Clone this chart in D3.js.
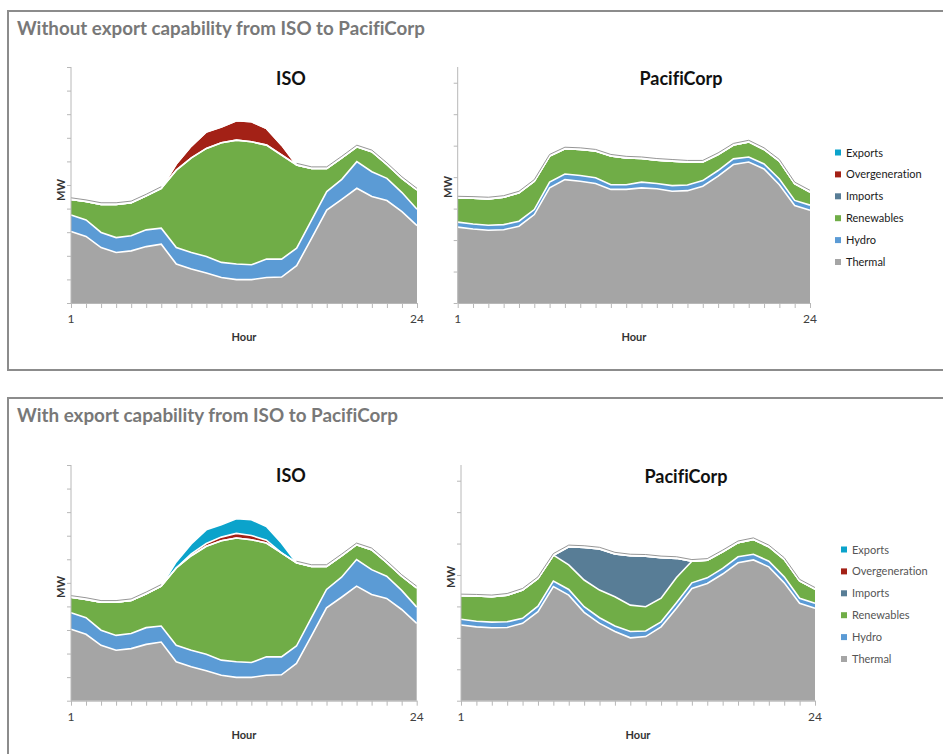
<!DOCTYPE html>
<html>
<head>
<meta charset="utf-8">
<script src="https://cdn.jsdelivr.net/npm/d3@7"></script>
<style>
  html, body { margin: 0; padding: 0; background: #fff; }
  svg { display: block; font-family: Lato, "Open Sans", sans-serif; font-variant-ligatures: none; font-feature-settings: "liga" 0; }
</style>
</head>
<body>
<svg id="chart" width="943" height="754"></svg>
<script>
// ---------------- DATA ----------------
const hours = [1,2,3,4,5,6,7,8,9,10,11,12,13,14,15,16,17,18,19,20,21,22,23,24];
const seriesKeys = ["Thermal","Hydro","Renewables","Imports","Overgeneration","Exports"];
const legendOrder = ["Exports","Overgeneration","Imports","Renewables","Hydro","Thermal"];
const panelTitles = ["Without export capability from ISO to PacifiCorp", "With export capability from ISO to PacifiCorp"];
const chartTitles = ["ISO", "PacifiCorp"];
const xTickLabels = [1, 24];

// ISO (MW, relative units)
const isoThermal  = [3.03,2.82,2.35,2.14,2.21,2.39,2.49,1.65,1.44,1.27,1.08,0.99,0.99,1.08,1.10,1.58,2.75,3.94,4.39,4.86,4.51,4.34,3.87,3.28];
const isoHydro    = [0.70,0.70,0.64,0.63,0.64,0.71,0.68,0.70,0.70,0.70,0.64,0.66,0.63,0.78,0.76,0.74,0.77,0.78,0.85,1.13,1.05,0.94,0.81,0.69];
const isoRenew    = [0.66,0.78,1.19,1.41,1.40,1.44,1.69,3.28,4.01,4.58,5.07,5.25,5.21,4.83,4.41,3.53,2.18,0.98,0.91,0.63,0.85,0.59,0.60,0.82];
const isoImports  = [0,0,0,0,0,0,0,0,0,0,0,0,0,0,0,0,0,0,0,0,0,0,0,0];
const isoOvergenA = [0,0,0,0,0,0,0,0.26,0.50,0.70,0.67,0.82,0.85,0.70,0.42,0,0,0,0,0,0,0,0,0];
const isoExportsA = [0,0,0,0,0,0,0,0,0,0,0,0,0,0,0,0,0,0,0,0,0,0,0,0];
const isoOvergenB = [0,0,0,0,0,0,0,0,0.08,0.12,0.15,0.20,0.18,0.12,0,0,0,0,0,0,0,0,0,0];
const isoExportsB = [0,0,0,0,0,0,0,0.26,0.42,0.58,0.52,0.62,0.67,0.58,0.42,0,0,0,0,0,0,0,0,0];

// PacifiCorp, without exports
const pacThermalA = [2.41,2.35,2.31,2.33,2.44,2.81,3.66,3.92,3.87,3.80,3.61,3.61,3.66,3.63,3.55,3.57,3.71,4.03,4.40,4.48,4.26,3.76,3.10,2.95];
const pacHydroA   = [0.16,0.16,0.16,0.16,0.16,0.16,0.18,0.18,0.18,0.18,0.15,0.15,0.18,0.17,0.18,0.18,0.18,0.18,0.18,0.16,0.16,0.18,0.16,0.16];
const pacRenewA   = [0.77,0.82,0.84,0.87,0.90,0.90,0.83,0.80,0.83,0.85,0.91,0.85,0.75,0.74,0.78,0.73,0.59,0.51,0.44,0.48,0.46,0.57,0.53,0.42];
const pacImportsA = [0,0,0,0,0,0,0,0,0,0,0,0,0,0,0,0,0,0,0,0,0,0,0,0];
// PacifiCorp, with exports from ISO
const pacThermalB = [2.41,2.35,2.32,2.33,2.46,2.83,3.63,3.36,2.81,2.46,2.20,2.00,2.04,2.35,2.94,3.57,3.73,4.03,4.39,4.48,4.26,3.75,3.10,2.94];
const pacHydroB   = [0.18,0.18,0.18,0.18,0.16,0.18,0.18,0.18,0.18,0.18,0.18,0.20,0.18,0.16,0.18,0.18,0.18,0.18,0.19,0.18,0.18,0.19,0.16,0.16];
const pacRenewB   = [0.75,0.80,0.81,0.85,0.90,0.88,0.82,0.78,0.85,0.88,0.93,0.84,0.77,0.75,0.80,0.69,0.56,0.53,0.45,0.47,0.46,0.56,0.55,0.45];
const pacImportsB = [0,0,0,0,0,0,0,0.58,1.04,1.31,1.36,1.57,1.61,1.29,0.61,0,0,0,0,0,0,0,0,0];
const zeros       = [0,0,0,0,0,0,0,0,0,0,0,0,0,0,0,0,0,0,0,0,0,0,0,0];

// ---------------- STYLE ----------------
const colors = {
  Thermal: "#a5a5a5",
  Hydro: "#5b9bd5",
  Renewables: "#70ad47",
  Imports: "#587d96",
  Overgeneration: "#a32116",
  Exports: "#0ba3cb"
};

function makeRows(th, hy, re, im, ov, ex) {
  return hours.map((h, i) => ({
    hour: h, Thermal: th[i], Hydro: hy[i], Renewables: re[i],
    Imports: im[i], Overgeneration: ov[i], Exports: ex[i]
  }));
}

const svg = d3.select("#chart");

// Panel frames
svg.append("rect").attr("x", 8).attr("y", 11).attr("width", 960).attr("height", 359)
  .attr("fill", "none").attr("stroke", "#8c8c8c").attr("stroke-width", 2);
svg.append("rect").attr("x", 8).attr("y", 398).attr("width", 960).attr("height", 400)
  .attr("fill", "none").attr("stroke", "#8c8c8c").attr("stroke-width", 2);

svg.append("text").attr("x", 17).attr("y", 35).text(panelTitles[0])
  .attr("font-size", 18).attr("font-weight", "bold").attr("fill", "#787878")
  .attr("textLength", 408).attr("lengthAdjust", "spacingAndGlyphs");
svg.append("text").attr("x", 17).attr("y", 422).text(panelTitles[1])
  .attr("font-size", 18).attr("font-weight", "bold").attr("fill", "#787878")
  .attr("textLength", 381).attr("lengthAdjust", "spacingAndGlyphs");

const charts = [
  { title: chartTitles[0], x0: 71, x1: 417, yT: 67, yB: 303, yMax: 10, nTicks: 10, titleX: 291, titleY: 85, mwY: 190,
    rows: makeRows(isoThermal, isoHydro, isoRenew, isoImports, isoOvergenA, isoExportsA) },
  { title: chartTitles[1], x0: 457.7, x1: 810, yT: 67, yB: 303, yMax: 7.5, nTicks: 7, titleX: 681, titleY: 85, mwY: 187,
    rows: makeRows(pacThermalA, pacHydroA, pacRenewA, pacImportsA, zeros, zeros) },
  { title: chartTitles[0], x0: 71, x1: 416.7, yT: 465, yB: 700.7, yMax: 10, nTicks: 10, titleX: 291, titleY: 482, mwY: 587,
    rows: makeRows(isoThermal, isoHydro, isoRenew, isoImports, isoOvergenB, isoExportsB) },
  { title: chartTitles[1], x0: 461, x1: 815, yT: 465, yB: 700.7, yMax: 7.5, nTicks: 7, titleX: 686, titleY: 483, mwY: 577,
    rows: makeRows(pacThermalB, pacHydroB, pacRenewB, pacImportsB, zeros, zeros) }
];

const stack = d3.stack().keys(seriesKeys);

charts.forEach(c => {
  const g = svg.append("g");
  const x = d3.scaleLinear().domain([1, 24]).range([c.x0, c.x1]);
  const y = d3.scaleLinear().domain([0, c.yMax]).range([c.yB, c.yT]);
  const layers = stack(c.rows);

  const area = d3.area().x(d => x(d.data.hour)).y0(d => y(d[0])).y1(d => y(d[1]));
  g.selectAll("path.area").data(layers).join("path")
    .attr("class", "area")
    .attr("d", area)
    .attr("fill", d => colors[d.key]);

  // white separator lines on top of each layer
  const topLine = d3.line().x(d => x(d.data.hour)).y(d => y(d[1]));
  g.selectAll("path.sep").data(layers).join("path")
    .attr("class", "sep")
    .attr("d", topLine)
    .attr("fill", "none").attr("stroke", "#fff").attr("stroke-width", 1.6);

  // thin gray outline above the stack where no surplus layers
  const last = layers[layers.length - 1];
  const outline = d3.line()
    .defined(d => (d.data.Overgeneration + d.data.Exports) === 0)
    .x(d => x(d.data.hour)).y(d => y(d[1]) - 1.6);
  g.append("path").attr("d", outline(last))
    .attr("fill", "none").attr("stroke", "#8a8a8a").attr("stroke-width", 0.9);

  // Y axis
  const yAxis = d3.axisLeft(y).tickValues(d3.range(0, c.nTicks + 1)).tickSize(4).tickFormat("");
  const ya = g.append("g").attr("transform", `translate(${c.x0},0)`).call(yAxis);
  ya.select(".domain").attr("stroke", "#b8b8b8").attr("d", `M-0,${c.yB}V${c.yT}`);
  ya.selectAll(".tick line").attr("stroke", "#b8b8b8");

  // X axis
  const xAxis = d3.axisBottom(x).tickValues(hours).tickSize(5).tickSizeOuter(0).tickFormat("");
  const xa = g.append("g").attr("transform", `translate(0,${c.yB})`).call(xAxis);
  xa.select(".domain").attr("stroke", "#b8b8b8");
  xa.selectAll(".tick line").attr("stroke", "#b8b8b8");

  xTickLabels.forEach(v => {
    g.append("text").attr("x", x(v)).attr("y", c.yB + 20).attr("text-anchor", "middle")
      .attr("font-size", 12).attr("fill", "#404040").text(v);
  });

  g.append("text").attr("x", (c.x0 + c.x1) / 2).attr("y", c.yB + 38).attr("text-anchor", "middle")
    .attr("font-size", 11).attr("font-weight", "bold").attr("fill", "#333").text("Hour");
  g.append("text").attr("transform", `translate(${c.x0 - 6},${c.mwY}) rotate(-90)`)
    .attr("text-anchor", "middle").attr("font-size", 11).attr("font-weight", "bold").attr("fill", "#333").text("MW");

  g.append("text").attr("x", c.titleX).attr("y", c.titleY).attr("text-anchor", "middle")
    .attr("font-size", 18).attr("font-weight", "bold").attr("fill", "#111").text(c.title);
});

// Legends
function legend(sx, tx, y0, textColor) {
  const lg = svg.append("g");
  legendOrder.forEach((k, i) => {
    const cy = y0 + i * 21.9;
    lg.append("rect").attr("x", sx - 3).attr("y", cy - 3).attr("width", 6).attr("height", 6).attr("fill", colors[k]);
    lg.append("text").attr("x", tx).attr("y", cy + 4).attr("font-size", 11).attr("fill", textColor).text(k);
  });
}
legend(838, 846, 152.5, "#1a1a1a");
legend(844, 852, 549.5, "#555");
</script>
</body>
</html>
